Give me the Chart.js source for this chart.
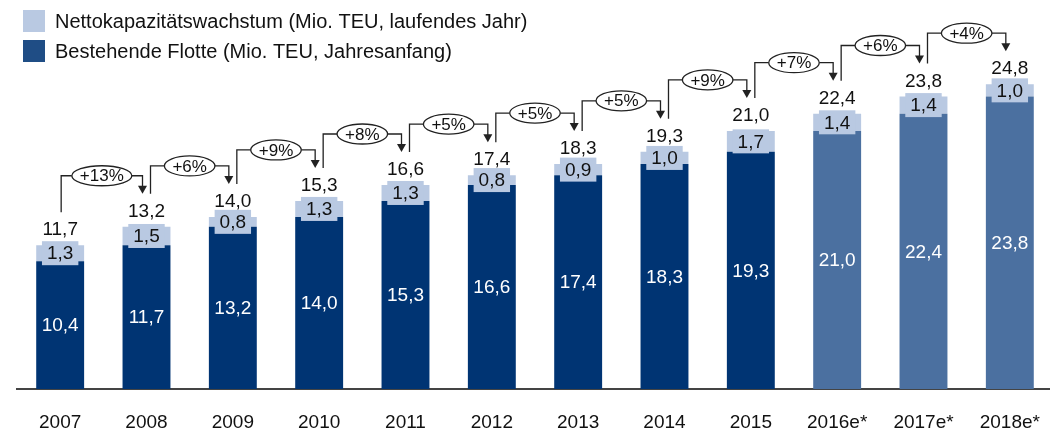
<!DOCTYPE html>
<html>
<head>
<meta charset="utf-8">
<script src="https://cdn.jsdelivr.net/npm/chart.js@4.4.0/dist/chart.umd.min.js"></script>
<style>
  html, body { margin: 0; padding: 0; background: #fff; overflow: hidden; }
  #wrap { position: relative; width: 1062px; height: 432px; }
</style>
</head>
<body>
<div id="wrap"><canvas id="fleet" width="1062" height="432"></canvas></div>
<script>
// ---- data ----
const years    = ['2007', '2008', '2009', '2010', '2011', '2012', '2013', '2014', '2015', '2016e*', '2017e*', '2018e*'];
const fleet    = [10.4, 11.7, 13.2, 14.0, 15.3, 16.6, 17.4, 18.3, 19.3, 21.0, 22.4, 23.8];
const growth   = [1.3, 1.5, 0.8, 1.3, 1.3, 0.8, 0.9, 1.0, 1.7, 1.4, 1.4, 1.0];
const totals   = [11.7, 13.2, 14.0, 15.3, 16.6, 17.4, 18.3, 19.3, 21.0, 22.4, 23.8, 24.8];
const yoyPct   = ['+13%', '+6%', '+9%', '+8%', '+5%', '+5%', '+5%', '+9%', '+7%', '+6%', '+4%'];
const forecastFrom = 9; // 2016e* onwards

const legendItems = [
  { text: 'Nettokapazitätswachstum (Mio. TEU, laufendes Jahr)', color: '#b9c9e2' },
  { text: 'Bestehende Flotte (Mio. TEU, Jahresanfang)', color: '#1f4d85' },
];

const FONT = '"Liberation Sans", Arial, Helvetica, sans-serif';
const fmt = v => v.toFixed(1).replace('.', ',');

/* ---- labels, growth arrows, legend ---- */
const overlay = {
  id: 'overlay',
  afterDatasetsDraw(chart) {
    const ctx = chart.ctx;
    const y = chart.scales.y;
    const base = chart.getDatasetMeta(0).data;
    const grow = chart.getDatasetMeta(1).data;

    ctx.save();
    ctx.textAlign = 'center';
    ctx.textBaseline = 'middle';
    ctx.font = '19px ' + FONT;

    base.forEach((bar, i) => {
      // fleet value, white, middle of dark part
      ctx.fillStyle = '#ffffff';
      ctx.fillText(fmt(fleet[i]), bar.x, (bar.y + bar.base) / 2 + 1);

      // growth value on a light box
      const g = grow[i];
      const gy = (g.y + g.base) / 2;
      const tw = ctx.measureText(fmt(growth[i])).width;
      ctx.fillStyle = '#b9c9e2';
      ctx.fillRect(g.x - tw / 2 - 5, gy - 12, tw + 10, 24);
      ctx.fillStyle = '#111';
      ctx.fillText(fmt(growth[i]), g.x, gy + 1);

      // total above the bar
      ctx.fillText(fmt(totals[i]), g.x, y.getPixelForValue(totals[i]) - 15);
    });

    // growth brackets
    ctx.strokeStyle = '#222';
    ctx.fillStyle = '#222';
    ctx.lineWidth = 1.3;
    ctx.font = '17px ' + FONT;
    for (let i = 0; i < yoyPct.length; i++) {
      const x0 = base[i].x + (i === 0 ? 1 : 4);
      const x1 = base[i + 1].x - 4;
      const yFrom = y.getPixelForValue(totals[i]) - 33;
      const yTo = y.getPixelForValue(totals[i + 1]) - 33;
      const lvl = y.getPixelForValue(totals[i + 1]) - 51;
      const cx = (x0 + x1) / 2;
      const rx = (ctx.measureText(yoyPct[i]).width + 16) / 2;
      const ry = 10;

      ctx.beginPath();
      ctx.moveTo(x0, yFrom);
      ctx.lineTo(x0, lvl);
      ctx.lineTo(cx - rx, lvl);
      ctx.moveTo(cx + rx, lvl);
      ctx.lineTo(x1, lvl);
      ctx.lineTo(x1, yTo - 7);
      ctx.stroke();

      ctx.beginPath();
      ctx.moveTo(x1 - 4.5, yTo - 8);
      ctx.lineTo(x1 + 4.5, yTo - 8);
      ctx.lineTo(x1, yTo);
      ctx.closePath();
      ctx.fill();

      ctx.beginPath();
      ctx.ellipse(cx, lvl, rx, ry, 0, 0, Math.PI * 2);
      ctx.fillStyle = '#fff';
      ctx.fill();
      ctx.stroke();
      ctx.fillStyle = '#111';
      ctx.fillText(yoyPct[i], cx, lvl + 1);
      ctx.fillStyle = '#222';
    }

    // legend
    ctx.textAlign = 'left';
    ctx.font = '20px ' + FONT;
    legendItems.forEach((item, k) => {
      const ly = 10 + k * 30;
      ctx.fillStyle = item.color;
      ctx.fillRect(23, ly, 22, 22);
      ctx.fillStyle = '#111';
      ctx.fillText(item.text, 55, ly + 12);
    });
    ctx.restore();
  }
};

new Chart(document.getElementById('fleet'), {
  type: 'bar',
  data: {
    labels: years,
    datasets: [
      {
        label: 'Bestehende Flotte',
        data: fleet,
        backgroundColor: fleet.map((v, i) => i >= forecastFrom ? '#4b70a0' : '#003473'),
        borderWidth: 0,
        categoryPercentage: 1,
        barPercentage: 0.555,
      },
      {
        label: 'Nettokapazitätswachstum',
        data: growth,
        backgroundColor: '#b9c9e2',
        borderWidth: 0,
        categoryPercentage: 1,
        barPercentage: 0.555,
      },
    ],
  },
  options: {
    responsive: false,
    animation: false,
    events: [],
    layout: { padding: { top: 8, left: 17, right: 1.5, bottom: 0 } },
    plugins: {
      legend: { display: false },
      tooltip: { enabled: false },
    },
    scales: {
      x: {
        stacked: true,
        grid: { display: false, drawTicks: false },
        border: { display: true, color: '#444', width: 2 },
        ticks: { color: '#111', font: { size: 19, family: FONT }, padding: 22, maxRotation: 0, autoSkip: false },
        afterFit: (s) => { s.height = 43; },
      },
      y: {
        stacked: true,
        display: false,
        min: 0,
        max: 31,
      },
    },
  },
  plugins: [overlay],
});
</script>
</body>
</html>
